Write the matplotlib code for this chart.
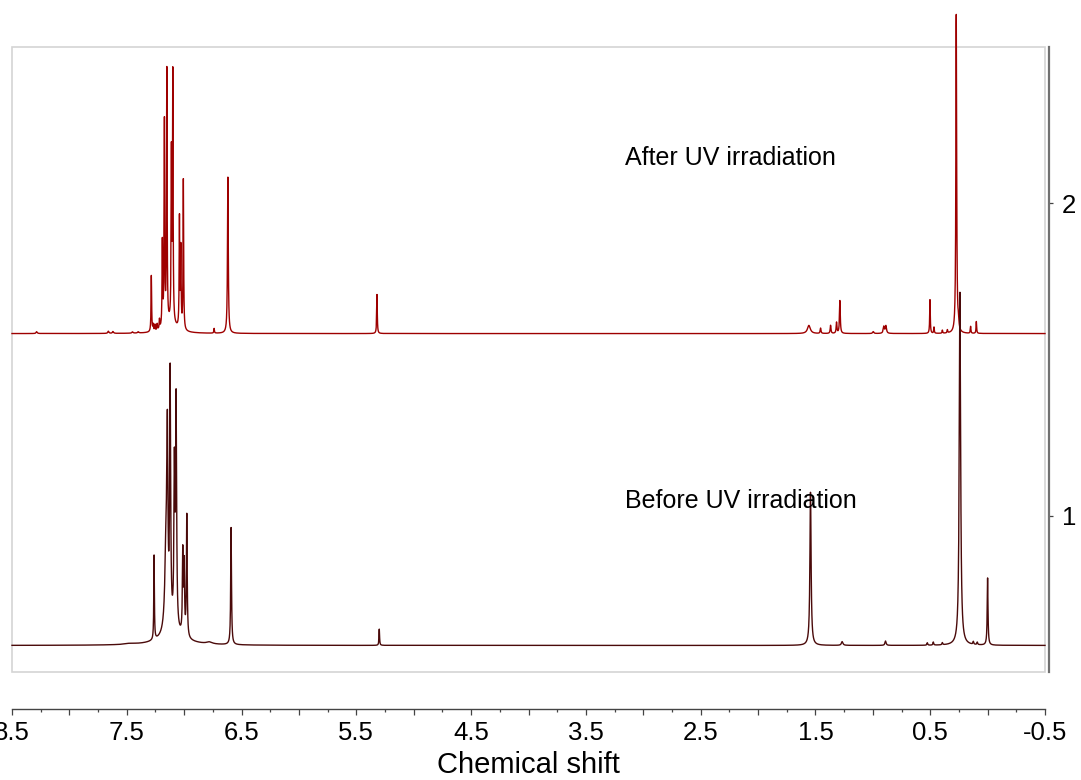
import numpy as np
import matplotlib
matplotlib.use('Agg')
import matplotlib.pyplot as plt
from matplotlib.patches import Rectangle
from matplotlib.ticker import FixedLocator, FuncFormatter

plt.rcParams['font.family'] = ['Liberation Sans', 'DejaVu Sans']

# peak lists: shift (ppm), height above baseline, half width (ppm)
before_shift = [7.47, 7.262, 7.157, 7.146, 7.122, 7.085, 7.070, 7.012, 7.000, 6.977,
                7.10, 6.78, 6.591, 5.30, 1.543, 1.267, 0.889, 0.525, 0.473, 0.394,
                0.241, 0.124, 0.090, 0.000]
before_height = [0.003, 0.27, 0.30, 0.52, 0.80, 0.50, 0.72, 0.26, 0.22, 0.39,
                 0.035, 0.006, 0.375, 0.052, 0.49, 0.012, 0.014, 0.008, 0.010, 0.007,
                 1.13, 0.009, 0.008, 0.215]
before_width = [0.05, 0.003, 0.012, 0.005, 0.005, 0.005, 0.005, 0.004, 0.004, 0.004,
                0.12, 0.03, 0.004, 0.003, 0.006, 0.008, 0.006, 0.004, 0.004, 0.004,
                0.007, 0.004, 0.004, 0.004]

after_shift = [8.285, 7.66, 7.62, 7.45, 7.40, 7.286, 7.27, 7.255, 7.235, 7.215,
               7.190, 7.172, 7.151, 7.111, 7.099, 7.041, 7.029, 7.007, 7.12,
               6.739, 6.619, 5.32, 1.557, 1.455, 1.368, 1.316, 1.287, 0.996,
               0.904, 0.886, 0.502, 0.467, 0.394, 0.350, 0.273, 0.254, 0.148, 0.098]
after_height = [0.006, 0.007, 0.006, 0.004, 0.004, 0.18, 0.02, 0.02, 0.02, 0.03,
                0.27, 0.65, 0.81, 0.53, 0.79, 0.35, 0.25, 0.48, 0.03,
                0.015, 0.50, 0.125, 0.026, 0.017, 0.026, 0.035, 0.105, 0.006,
                0.022, 0.024, 0.108, 0.02, 0.01, 0.01, 1.02, 0.03, 0.022, 0.038]
after_width = [0.006, 0.006, 0.006, 0.006, 0.006, 0.003, 0.003, 0.003, 0.003, 0.003,
               0.003, 0.003, 0.003, 0.003, 0.003, 0.003, 0.003, 0.003, 0.06,
               0.003, 0.004, 0.003, 0.015, 0.004, 0.004, 0.004, 0.004, 0.006,
               0.006, 0.006, 0.003, 0.003, 0.003, 0.003, 0.004, 0.004, 0.003, 0.003]

before_offset = 0.585
after_offset = 1.583

x_ticks = [8.5, 8.0, 7.5, 7.0, 6.5, 6.0, 5.5, 5.0, 4.5, 4.0, 3.5, 3.0, 2.5,
           2.0, 1.5, 1.0, 0.5, 0.0, -0.5]
y_ticks = [1, 2]


def spectrum(ppm, shifts, heights, widths):
    y = np.zeros_like(ppm)
    for s, h, w in zip(shifts, heights, widths):
        y += h / (1 + ((ppm - s) / w) ** 2)
    return y


ppm = np.linspace(-0.5, 8.5, 60000)
before = before_offset + spectrum(ppm, before_shift, before_height, before_width)
after = after_offset + spectrum(ppm, after_shift, after_height, after_width)

fig = plt.figure(figsize=(10.81, 7.80), dpi=100)
ax = fig.add_axes([12 / 1081, 1 - 672 / 780, (1045 - 12) / 1081, (672 - 47) / 780])

ax.plot(ppm, after, color='#9E0000', lw=1.0, clip_on=False, zorder=2)
ax.plot(ppm, before, color='#4A0A0A', lw=1.0, clip_on=False, zorder=3)

ax.set_xlim(8.5, -0.5)
ax.set_ylim(0.5, 2.5)

# light grey frame around the plot area
ax.add_patch(Rectangle((0, 0), 1, 1, transform=ax.transAxes, fill=False,
                       ec='#d4d4d4', lw=1.2, clip_on=False, zorder=1))
ax.spines[['left', 'top']].set_visible(False)
ax.spines['bottom'].set_position(('outward', 26.5))
ax.spines['bottom'].set_color('#444444')
ax.spines['bottom'].set_linewidth(1.0)
ax.spines['right'].set_position(('outward', 3))
ax.spines['right'].set_color('#707070')
ax.spines['right'].set_linewidth(1.6)

ax.xaxis.set_major_locator(FixedLocator(x_ticks))
ax.xaxis.set_minor_locator(FixedLocator(np.arange(-0.25, 8.5, 0.5)))
ax.xaxis.set_major_formatter(FuncFormatter(
    lambda v, p: f'{v:.1f}' if abs(v % 1 - 0.5) < 1e-6 else ''))
ax.tick_params(axis='x', which='major', length=4, width=0.9, color='#444444',
               labelsize=18.5, pad=5)
ax.tick_params(axis='x', which='minor', length=2.5, width=0.9, color='#444444')

ax.yaxis.tick_right()
ax.set_yticks(y_ticks)
ax.tick_params(axis='y', length=3, width=0.9, color='#444444', labelsize=18.5, pad=6)

ax.set_xlabel('Chemical shift', fontsize=21, labelpad=4)

ax.text(3.16, 2.145, 'After UV irradiation', fontsize=18, va='center', ha='left')
ax.text(3.16, 1.048, 'Before UV irradiation', fontsize=18, va='center', ha='left')

fig.savefig('out.png', dpi=100)
